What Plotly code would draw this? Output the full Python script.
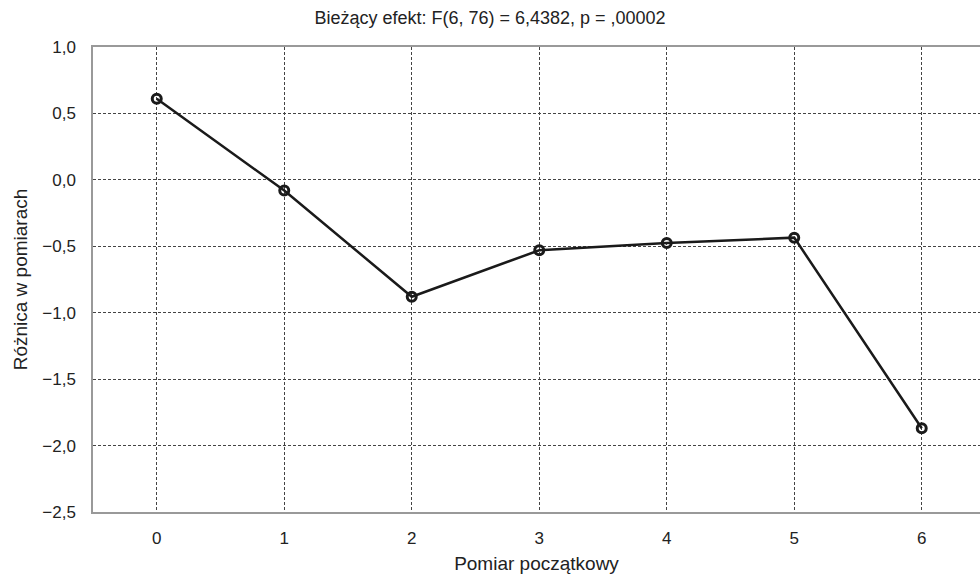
import plotly.graph_objects as go

x_vals = [0, 1, 2, 3, 4, 5, 6]
y_vals = [0.61, -0.08, -0.88, -0.53, -0.475, -0.435, -1.87]
y_ticks = [1.0, 0.5, 0.0, -0.5, -1.0, -1.5, -2.0, -2.5]

fig = go.Figure()
fig.add_trace(go.Scatter(
    x=x_vals, y=y_vals, mode="lines+markers",
    line=dict(color="#1a1a1a", width=2.5),
    marker=dict(symbol="circle-open", size=9, color="#1a1a1a", line=dict(width=3)),
    showlegend=False, cliponaxis=False,
))

font = "Liberation Sans, Arial, sans-serif"
fig.update_layout(
    width=980, height=575, autosize=False,
    margin=dict(l=93, r=0, t=47, b=63),
    paper_bgcolor="white", plot_bgcolor="white",
    separators=", ",
    font=dict(family=font, size=17, color="#222"),
    title=dict(text="Bieżący efekt: F(6, 76) = 6,4382, p = ,00002",
               x=0.5, xanchor="center", y=0.97, yref="container", yanchor="middle",
               font=dict(size=18, color="#222")),
)
fig.update_xaxes(
    range=[-0.5, 6.457], tickvals=x_vals, ticktext=[str(v) for v in x_vals],
    showline=True, linecolor="#999", linewidth=1.5, mirror=True,
    showgrid=True, gridcolor="#444", griddash="3px,2px", gridwidth=1,
    zeroline=False, ticks="", ticklabelstandoff=10, automargin=False,
    tickfont=dict(size=17),
    title=dict(text="Pomiar początkowy", standoff=10, font=dict(size=19)),
)
fig.update_yaxes(
    range=[-2.5, 1.0], tickvals=y_ticks, tickformat=".1f",
    showline=True, linecolor="#999", linewidth=1.5,
    showgrid=True, gridcolor="#444", griddash="3px,2px", gridwidth=1,
    zeroline=False, ticks="", ticklabelstandoff=12, automargin=False,
    tickfont=dict(size=17),
    title=dict(text="Różnica w pomiarach", standoff=10, font=dict(size=19)),
)
fig.write_html("out.html", config={"displayModeBar": False},
               post_script="document.body.style.margin='0';document.body.style.overflow='hidden';")
